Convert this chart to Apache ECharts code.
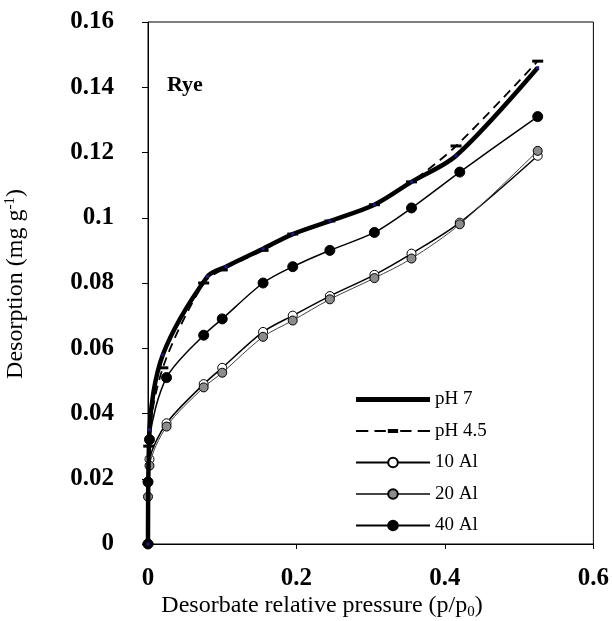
<!DOCTYPE html>
<html>
<head>
<meta charset="utf-8">
<script src="https://cdn.jsdelivr.net/npm/echarts@6/dist/echarts.min.js"></script>
<style>
html,body{margin:0;padding:0;background:#fff;}
#chart{width:612px;height:621px;}
</style>
</head>
<body>
<div id="chart"></div>
<script>
// ---- data ----
const seriesNames = ['pH 7', 'pH 4.5', '10 Al', '20 Al', '40 Al'];
const xTicks = [0, 0.2, 0.4, 0.6];
const yTicks = [0, 0.02, 0.04, 0.06, 0.08, 0.1, 0.12, 0.14, 0.16];

const xPH7  = [0, 0.002, 0.02, 0.08, 0.105, 0.155, 0.195, 0.245, 0.305, 0.355, 0.415, 0.525];
const yPH7  = [0, 0.035, 0.058, 0.082, 0.085, 0.0905, 0.095, 0.099, 0.104, 0.111, 0.119, 0.146];

const xPH45 = [0, 0.001, 0.02, 0.075, 0.1, 0.155, 0.195, 0.245, 0.305, 0.355, 0.415, 0.525];
const yPH45 = [0, 0.030, 0.054, 0.080, 0.084, 0.090, 0.095, 0.099, 0.104, 0.111, 0.122, 0.148];

const x10Al = [0, 0.002, 0.025, 0.075, 0.1, 0.155, 0.195, 0.245, 0.305, 0.355, 0.42, 0.525];
const y10Al = [0.019, 0.026, 0.037, 0.049, 0.054, 0.065, 0.070, 0.076, 0.0825, 0.089, 0.0985, 0.119];

const x20Al = [0, 0.002, 0.025, 0.075, 0.1, 0.155, 0.195, 0.245, 0.305, 0.355, 0.42, 0.525];
const y20Al = [0.0145, 0.024, 0.036, 0.048, 0.0525, 0.0635, 0.0685, 0.075, 0.0815, 0.0875, 0.098, 0.1205];

const x40Al = [0, 0, 0.002, 0.025, 0.075, 0.1, 0.155, 0.195, 0.245, 0.305, 0.355, 0.42, 0.525];
const y40Al = [0, 0.019, 0.032, 0.051, 0.064, 0.069, 0.080, 0.085, 0.090, 0.0955, 0.103, 0.114, 0.131];

function pairs(xs, ys) { return xs.map((x, i) => [x, ys[i]]); }

const FONT = 'Liberation Serif';
const chart = echarts.init(document.getElementById('chart'), null, {renderer: 'canvas'});

const dashIcon = 'path://M0,1h12v2h-12z M18,1h11v2h-11z M31,0h10v4h-10z M43,1h11v2h-11z M60,1h12v2h-12z';
const thickIcon = 'path://M0,0h72v5h-72z';

const option = {
  animation: false,
  backgroundColor: '#fff',
  textStyle: {fontFamily: FONT, color: '#000'},
  title: {
    text: 'Rye', left: 162, top: 69,
    textStyle: {fontFamily: FONT, fontWeight: 'bold', fontSize: 22, color: '#000'}
  },
  grid: {
    left: 148, right: 17, top: 22, bottom: 77,
    show: true, borderColor: '#000', borderWidth: 1, backgroundColor: 'transparent'
  },
  legend: {
    data: [
      {name: 'pH 7', icon: thickIcon, itemStyle: {color: '#000'}},
      {name: 'pH 4.5', icon: dashIcon, itemStyle: {color: '#000'}},
      {name: '10 Al'},
      {name: '20 Al'},
      {name: '40 Al'}
    ],
    orient: 'vertical',
    left: 350, top: 385,
    itemWidth: 74, itemHeight: 12, itemGap: 12.5,
    symbolKeepAspect: true,
    textStyle: {fontFamily: FONT, fontSize: 19, color: '#000'}
  },
  graphic: [
    {
      type: 'text', x: 322, y: 606,
      style: {
        text: '{a|Desorbate relative pressure (p/p}{s|0}{a|)}',
        align: 'center', verticalAlign: 'middle',
        rich: {
          a: {fontFamily: FONT, fontSize: 24, fill: '#000', lineHeight: 30},
          s: {fontFamily: FONT, fontSize: 15, fill: '#000', lineHeight: 30, padding: [12, 0, 0, 0]}
        }
      }
    },
    {
      type: 'text', x: 16, y: 284, rotation: Math.PI / 2,
      style: {
        text: '{a|Desorption (mg g}{s|-1}{a|)}',
        align: 'center', verticalAlign: 'middle',
        rich: {
          a: {fontFamily: FONT, fontSize: 24, fill: '#000', lineHeight: 30},
          s: {fontFamily: FONT, fontSize: 15, fill: '#000', lineHeight: 30, padding: [0, 0, 12, 0]}
        }
      }
    }
  ],
  xAxis: {
    type: 'value', min: xTicks[0], max: xTicks[xTicks.length - 1], interval: 0.2,
    axisLine: {lineStyle: {color: '#000', width: 1}},
    axisTick: {show: true, length: 5, lineStyle: {color: '#000'}},
    splitLine: {show: false},
    axisLabel: {fontFamily: FONT, fontWeight: 'bold', fontSize: 25, color: '#000', margin: 22,
      formatter: v => String(+v.toFixed(1))}
  },
  yAxis: {
    type: 'value', min: yTicks[0], max: yTicks[yTicks.length - 1], interval: 0.02,
    axisLine: {show: true, lineStyle: {color: '#000', width: 1}},
    axisTick: {show: true, length: 6, lineStyle: {color: '#000'}},
    splitLine: {show: false},
    axisLabel: {fontFamily: FONT, fontWeight: 'bold', fontSize: 25, color: '#000', margin: 34,
      formatter: v => String(+v.toFixed(2))}
  },
  series: [
    {
      name: '10 Al', type: 'line', smooth: 0.3, data: pairs(x10Al, y10Al),
      symbol: 'circle', symbolSize: 9, z: 2,
      lineStyle: {color: '#000', width: 1.5},
      itemStyle: {color: '#fff', borderColor: '#000', borderWidth: 1}
    },
    {
      name: '20 Al', type: 'line', smooth: 0.3, data: pairs(x20Al, y20Al),
      symbol: 'circle', symbolSize: 9, z: 3,
      lineStyle: {color: '#444', width: 1},
      itemStyle: {color: '#8c8c8c', borderColor: '#000', borderWidth: 1}
    },
    {
      name: '40 Al', type: 'line', smooth: 0.3, data: pairs(x40Al, y40Al),
      symbol: 'circle', symbolSize: 10, z: 4,
      lineStyle: {color: '#000', width: 1.5},
      itemStyle: {color: '#000', borderColor: '#000', borderWidth: 1}
    },
    {
      name: 'pH 4.5', type: 'line', smooth: 0.3, data: pairs(xPH45, yPH45),
      symbol: 'rect', symbolSize: [11, 3], z: 5,
      lineStyle: {color: '#000', width: 1.8, type: [9, 6]},
      itemStyle: {color: '#000'}
    },
    {
      name: 'pH 7', type: 'line', smooth: 0.3, data: pairs(xPH7, yPH7),
      symbol: 'rect', symbolSize: 3, z: 6,
      lineStyle: {color: '#000', width: 4.5},
      itemStyle: {color: '#1a1a8c'}
    }
  ]
};
chart.setOption(option);
</script>
</body>
</html>
